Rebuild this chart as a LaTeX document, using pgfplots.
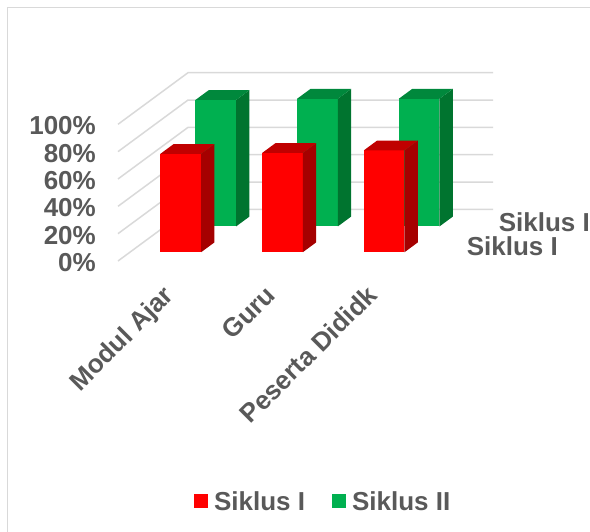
\documentclass[border=0pt]{standalone}
\usepackage{fontspec}
\setmainfont{Liberation Sans}
\usepackage{pgfplots}
\pgfplotsset{compat=1.18}
\usetikzlibrary{calc}
\definecolor{redF}{HTML}{FF0000}
\definecolor{redS}{HTML}{A50000}
\definecolor{redT}{HTML}{C00000}
\definecolor{grnF}{HTML}{00B050}
\definecolor{grnS}{HTML}{00742F}
\definecolor{grnT}{HTML}{00883C}
\definecolor{gridc}{HTML}{D9D9D9}
\definecolor{txt}{HTML}{595959}
\newcommand{\lbl}{\fontsize{26bp}{31bp}\selectfont\bfseries\color{txt}}
% #1 x0, #2 x1, #3 y0, #4 y1, #5 value, #6 front, #7 side, #8 top
\newcommand{\cuboid}[8]{%
 \addplot3[fill=#6, draw=none, forget plot] coordinates {(#1,#3,0) (#2,#3,0) (#2,#3,#5) (#1,#3,#5)};
 \addplot3[fill=#7, draw=none, forget plot] coordinates {(#2,#3,0) (#2,#4,0) (#2,#4,#5) (#2,#3,#5)};
 \addplot3[fill=#8, draw=none, forget plot] coordinates {(#1,#3,#5) (#2,#3,#5) (#2,#4,#5) (#1,#4,#5)};
}
\begin{document}
\begin{tikzpicture}
\begin{axis}[
 x={(101.7bp,0bp)}, y={(70bp,51.6bp)}, z={(0bp,1.367bp)},
 xmin=0, xmax=3, ymin=0, ymax=1, zmin=0, zmax=100,
 hide axis, clip=false,
 legend columns=2,
 legend cell align=left,
 legend style={draw=none, fill=none, font=\lbl, at={(0.547,-1.277)}, anchor=center,
   /tikz/every even column/.append style={column sep=25bp}},
]
% walls
\pgfplotsinvokeforeach{0,20,40,60,80,100}{
 \addplot3[gridc, line width=1.5bp, forget plot] coordinates {(0,0,#1) (0,1,#1) (3,1,#1)};
}
% Siklus II (back row)
\cuboid{0.3}{0.7}{0.67}{0.86}{92.5}{grnF}{grnS}{grnT}
\cuboid{1.3}{1.7}{0.67}{0.86}{93.4}{grnF}{grnS}{grnT}
\cuboid{2.3}{2.7}{0.67}{0.86}{93.4}{grnF}{grnS}{grnT}
% Siklus I (front row)
\cuboid{0.3}{0.7}{0.17}{0.36}{72.0}{redF}{redS}{redT}
\cuboid{1.3}{1.7}{0.17}{0.36}{72.6}{redF}{redS}{redT}
\cuboid{2.3}{2.7}{0.17}{0.36}{74.5}{redF}{redS}{redT}
% value labels
\pgfplotsinvokeforeach{0,20,40,60,80,100}{
 \node[anchor=east, inner sep=0pt, font=\lbl] at ($(axis cs:0,0,#1)+(-22bp,-1.5bp)$) {#1\%};
}
% category labels
\node[rotate=45, anchor=east, inner sep=0pt, text height=0.75em, text depth=0.2em, font=\lbl] at ($(axis cs:0.5,0,0)+(4.5bp,-34bp)$) {Modul Ajar};
\node[rotate=45, anchor=east, inner sep=0pt, text height=0.75em, text depth=0.2em, font=\lbl] at ($(axis cs:1.5,0,0)+(4.5bp,-34bp)$) {Guru};
\node[rotate=45, anchor=east, inner sep=0pt, text height=0.75em, text depth=0.2em, font=\lbl] at ($(axis cs:2.5,0,0)+(4.5bp,-34bp)$) {Peserta Dididk};
% series labels
\node[anchor=base west, inner sep=0pt, font=\lbl] at ($(axis cs:3,0.265,0)+(25bp,-7.7bp)$) {Siklus I};
\node[anchor=base west, inner sep=0pt, font=\lbl] at ($(axis cs:3,0.765,0)+(22bp,-10.2bp)$) {Siklus II};
% legend
\addlegendimage{draw=none, legend image code/.code={\fill[redF, draw=none] (0bp,-7bp) rectangle (14bp,7bp); \path[draw=none, fill=none] (0bp,-7bp) rectangle (18bp,7bp);}}
\addlegendentry{Siklus I}
\addlegendimage{draw=none, legend image code/.code={\fill[grnF, draw=none] (0bp,-7bp) rectangle (14bp,7bp); \path[draw=none, fill=none] (0bp,-7bp) rectangle (18bp,7bp);}}
\addlegendentry{Siklus II}
\coordinate (O) at (axis cs:0,0,0);
\end{axis}
\pgfresetboundingbox
\useasboundingbox ($(O)+(-118bp,-271bp)$) rectangle ++(590bp,532bp);
\draw[gridc, line width=1.5bp] ($(O)+(-110.5bp,-280bp)$) -- ($(O)+(-110.5bp,253.5bp)$) -- ($(O)+(500bp,253.5bp)$);
\end{tikzpicture}
\end{document}
